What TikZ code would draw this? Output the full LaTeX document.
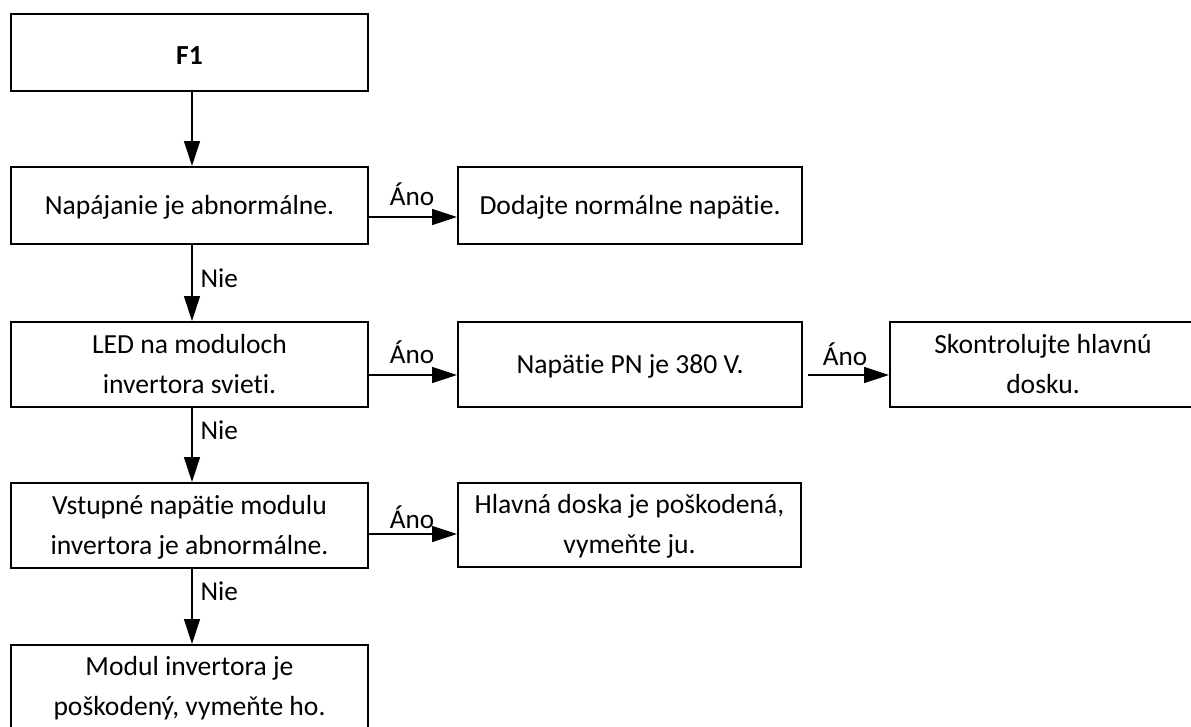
\documentclass[tikz,border=0pt]{standalone}
\usepackage{fontspec}
\setmainfont{Carlito}[Ligatures=NoCommon]
\usetikzlibrary{arrows.meta,calc}
\tikzset{
  box/.style={draw=black, line width=2pt, rectangle, inner sep=0pt, align=center,
    font=\fontsize{27.6}{40}\selectfont, text depth=0pt},
  onel/.style={text height=17.8pt},
  twol/.style={text height=57.8pt},
  arr/.style={line width=1.3pt, -{Triangle[length=25pt,width=16pt]}},
  lbl/.style={font=\fontsize{27.2}{32}\selectfont, inner sep=0pt},
}
\begin{document}
\begin{tikzpicture}[x=1pt,y=-1pt]
\clip (0,0) rectangle (1191,726);
\fill[white] (0,0) rectangle (1191,726);
% left column
\node[box,onel,minimum width=357pt,minimum height=77pt] (F1) at (189.5,52.5) {\raisebox{-3pt}{\textbf{F1}}};
\node[box,onel,minimum width=357pt,minimum height=77pt] (B2) at (189.5,205.5) {Napájanie je abnormálne.};
\node[box,twol,minimum width=357pt,minimum height=85pt] (B3) at (189.5,364.5) {LED na moduloch\\invertora svieti.};
\node[box,twol,minimum width=357pt,minimum height=85pt] (B4) at (189.5,525.5) {Vstupné napätie modulu\\invertora je abnormálne.};
\node[box,twol,text height=50pt,minimum width=357pt,minimum height=90pt] (B5) at (189.5,690) {Modul invertora je\\poškodený, vymeňte ho.};
% right column
\node[box,onel,minimum width=344pt,minimum height=77pt] (R1) at (630,205.5) {Dodajte normálne napätie.};
\node[box,onel,minimum width=344pt,minimum height=85pt] (R2) at (630,364.5) {Napätie PN je 380 V.};
\node[box,twol,minimum width=306pt,minimum height=85pt] (R3) at (1043,364.5) {Skontrolujte hlavnú\\dosku.};
\node[box,twol,minimum width=343pt,minimum height=84pt] (R4) at (629.5,525) {Hlavná doska je poškodená,\\vymeňte ju.};
% vertical connectors
\draw[arr] ($(F1.south)+(2.5,0)$) -- ($(B2.north)+(2.5,0)$);
\draw[arr] ($(B2.south)+(2.5,0)$) -- node[lbl,pos=0.44,anchor=west,xshift=8pt]{Nie} ($(B3.north)+(2.5,0)$);
\draw[arr] ($(B3.south)+(2.5,0)$) -- node[lbl,pos=0.30,anchor=west,xshift=8pt]{Nie} ($(B4.north)+(2.5,0)$);
\draw[arr] ($(B4.south)+(2.5,0)$) -- node[lbl,pos=0.30,anchor=west,xshift=8pt]{Nie} ($(B5.north)+(2.5,0)$);
% horizontal connectors
\node[lbl,anchor=base] (L1) at (412,205) {Áno};
\draw[arr] ($(B2.east)+(0,11.5)$) -- ($(R1.west)+(0,11.5)$);
\node[lbl,anchor=base] (L2) at (412,363) {Áno};
\draw[arr] ($(B3.east)+(0,10.5)$) -- ($(R2.west)+(0,10.5)$);
\node[lbl,anchor=base] (L3) at (845,365) {Áno};
\draw[arr] ($(R2.east)+(5,10.5)$) -- ($(R3.west)+(0,10.5)$);
\node[lbl,anchor=base] (L4) at (412,528) {Áno};
\draw[arr] ($(B4.east)+(0,8.5)$) -- ($(R4.west)+(0,9)$);
\end{tikzpicture}
\end{document}
